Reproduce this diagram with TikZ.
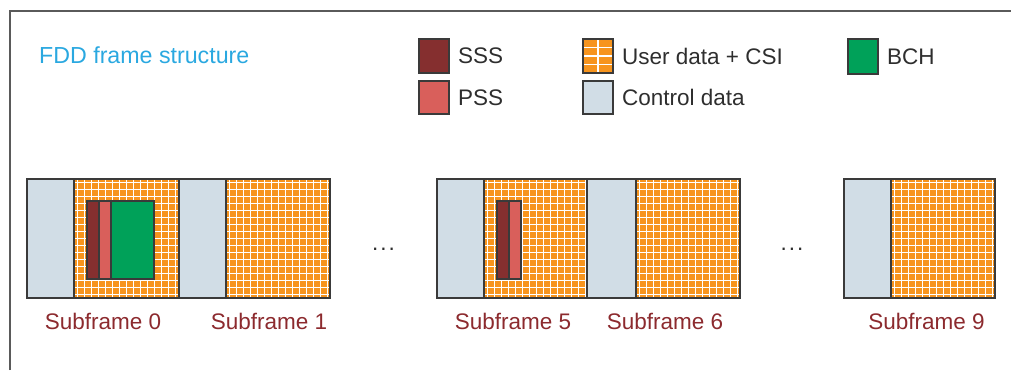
\documentclass[tikz,border=0pt]{standalone}
\usepackage{fontspec}
\setmainfont{Liberation Sans}
\usetikzlibrary{calc}
\definecolor{ctrlc}{HTML}{D1DDE6}
\definecolor{orangec}{HTML}{F7941D}
\definecolor{sssc}{HTML}{852F2F}
\definecolor{pssc}{HTML}{D95F5B}
\definecolor{bchc}{HTML}{00A159}
\definecolor{edgec}{HTML}{3A3A3A}
\definecolor{labc}{HTML}{8C2A2E}
\definecolor{titlec}{HTML}{2AA8E0}
\definecolor{textc}{HTML}{2E2E2E}
\definecolor{framec}{HTML}{5A5A5A}
\newcommand{\fsz}{\fontsize{22.5}{26}\selectfont}
\newcommand{\tsz}{\fontsize{23.2}{27}\selectfont}
\begin{document}
\begin{tikzpicture}[x=1pt,y=-1pt,
  box/.style={draw=edgec, line width=1.3pt, inner sep=0pt, outer sep=0pt, anchor=north west},
  ctrl/.style={box, fill=ctrlc},
  sss/.style={box, fill=sssc},
  pss/.style={box, fill=pssc},
  bch/.style={box, fill=bchc},
  udata/.style={box, fill=orangec, path picture={
    \foreach \k in {0,...,17}{
      \draw[white, line width=1.8pt] ([xshift=\k*7pt+3.5pt]path picture bounding box.north west) -- ([xshift=\k*7pt+3.5pt]path picture bounding box.south west);
      \draw[white, line width=1.8pt] ([yshift=-\k*7pt-3.5pt]path picture bounding box.north west) -- ([yshift=-\k*7pt-3.5pt]path picture bounding box.north east);
    }}},
  ulegend/.style={box, fill=orangec, path picture={
    \draw[white, line width=1.5pt] (path picture bounding box.north) -- (path picture bounding box.south);
    \foreach \f in {0.25,0.5,0.75}
      \draw[white, line width=1.5pt] ($(path picture bounding box.north west)!\f!(path picture bounding box.south west)$) -- ($(path picture bounding box.north east)!\f!(path picture bounding box.south east)$);
    }},
  lab/.style={text=labc, font=\fsz, inner sep=0pt},
  legtxt/.style={text=textc, font=\fsz, inner sep=0pt, anchor=west},
  dotsnode/.style={text=textc, font=\fsz, inner sep=0pt, anchor=base},
  frameline/.style={draw=framec, line width=2pt}
]
\useasboundingbox (0,0) rectangle (1011,370);
% frame
\coordinate (fb) at (10,370);
\coordinate (fc) at (10,11);
\coordinate (fr) at (1011,11);
\draw[frameline] (fb) -- (fc) -- (fr);

% title
\node[text=titlec, font=\tsz, inner sep=0pt, anchor=west] (title) at (39,55) {FDD frame structure};

% legend
\node[sss, minimum width=30pt, minimum height=34pt] (lsss) at (419,39) {};
\node[legtxt] (tsss) at ([xshift=9pt]lsss.east) {SSS};
\node[pss, minimum width=30pt, minimum height=33pt] (lpss) at (419,81) {};
\node[legtxt] (tpss) at ([xshift=9pt]lpss.east) {PSS};
\node[ulegend, minimum width=30pt, minimum height=34pt] (lusr) at (583,39) {};
\node[legtxt] (tusr) at ([xshift=9pt]lusr.east) {User data + CSI};
\node[ctrl, minimum width=30pt, minimum height=33pt] (lctl) at (583,81) {};
\node[legtxt] (tctl) at ([xshift=9pt]lctl.east) {Control data};
\node[bch, minimum width=30pt, minimum height=35pt] (lbch) at (848,39) {};
\node[legtxt] (tbch) at ([xshift=9pt]lbch.east) {BCH};

% subframe 0
\node[ctrl, minimum width=47pt, minimum height=119pt] (c0) at (27,179) {};
\node[udata, minimum width=105pt, minimum height=119pt] (d0) at (c0.north east) {};
\node[sss, minimum width=12pt, minimum height=78pt] (s0) at (87,201) {};
\node[pss, minimum width=12pt, minimum height=78pt] (p0) at (s0.north east) {};
\node[bch, minimum width=43pt, minimum height=78pt] (b0) at (p0.north east) {};
% subframe 1
\node[ctrl, minimum width=47pt, minimum height=119pt] (c1) at (d0.north east) {};
\node[udata, minimum width=104pt, minimum height=119pt] (d1) at (c1.north east) {};
% subframe 5
\node[ctrl, minimum width=47pt, minimum height=119pt] (c5) at (437,179) {};
\node[udata, minimum width=103pt, minimum height=119pt] (d5) at (c5.north east) {};
\node[sss, minimum width=12pt, minimum height=78pt] (s5) at (497,201) {};
\node[pss, minimum width=12pt, minimum height=78pt] (p5) at (s5.north east) {};
% subframe 6
\node[ctrl, minimum width=49pt, minimum height=119pt] (c6) at (d5.north east) {};
\node[udata, minimum width=104pt, minimum height=119pt] (d6) at (c6.north east) {};
% subframe 9
\node[ctrl, minimum width=47pt, minimum height=119pt] (c9) at (844,179) {};
\node[udata, minimum width=104pt, minimum height=119pt] (d9) at (c9.north east) {};

% dots
\node[dotsnode] (e1) at (383.5,250) {.\kern2pt.\kern2pt.};
\node[dotsnode] (e2) at (792,250) {.\kern2pt.\kern2pt.};

% labels
\node[lab] (l0) at (103,321) {Subframe 0};
\node[lab] (l1) at (269,321) {Subframe 1};
\node[lab] (l5) at (513,321) {Subframe 5};
\node[lab] (l6) at (665,321) {Subframe 6};
\node[lab] (l9) at (926.5,321) {Subframe 9};
\end{tikzpicture}
\end{document}
